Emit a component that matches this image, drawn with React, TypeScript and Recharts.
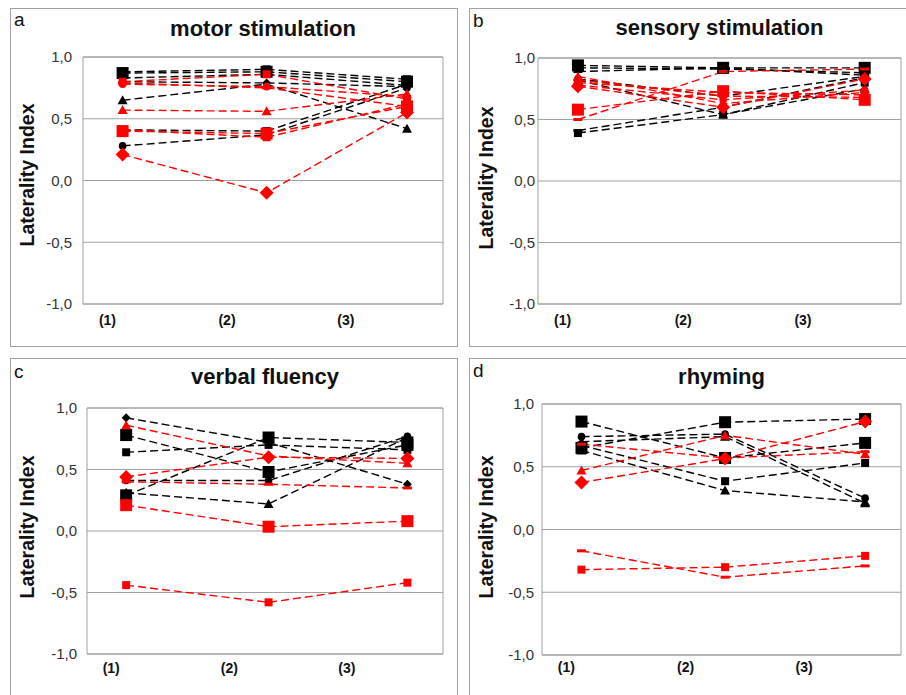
import React from 'react';
import { LineChart, Line, XAxis, YAxis, CartesianGrid, ReferenceLine } from 'recharts';

const conditions = ['(1)', '(2)', '(3)'];
// the measurements sit to the right of the printed category labels (0-100 axis)
const conditionX = [11, 51, 90];
const labelX = [6.8, 40, 73];
const yTicks = [-1, -0.5, 0, 0.5, 1];

type Mark = 'sqL' | 'sq' | 'dmL' | 'dm' | 'tri' | 'cir' | 'dash';

// a: motor stimulation
const motorBlack = [
  [0.87, 0.88, 0.8],
  [0.88, 0.9, 0.82],
  [0.83, 0.86, 0.77],
  [0.65, 0.78, 0.42],
  [0.28, 0.37, 0.75],
  [0.41, 0.4, 0.78],
  [0.8, 0.79, 0.76],
];
const motorBlackMarks: Mark[] = ['sqL', 'sq', 'cir', 'tri', 'cir', 'sq', 'dm'];
const motorRed = [
  [0.4, 0.38, 0.6],
  [0.41, 0.35, 0.62],
  [0.57, 0.56, 0.7],
  [0.21, -0.1, 0.55],
  [0.8, 0.86, 0.66],
  [0.79, 0.75, 0.6],
  [0.78, 0.76, 0.68],
];
const motorRedMarks: Mark[] = ['sqL', 'sq', 'tri', 'dmL', 'sq', 'dash', 'cir'];

// b: sensory stimulation
const sensoryBlack = [
  [0.94, 0.92, 0.92],
  [0.92, 0.91, 0.88],
  [0.89, 0.92, 0.86],
  [0.83, 0.69, 0.85],
  [0.39, 0.54, 0.8],
  [0.41, 0.6, 0.84],
  [0.82, 0.54, 0.75],
];
const sensoryBlackMarks: Mark[] = ['sqL', 'sq', 'dash', 'cir', 'sq', 'dash', 'tri'];
const sensoryRed = [
  [0.77, 0.6, 0.83],
  [0.85, 0.63, 0.72],
  [0.58, 0.73, 0.66],
  [0.5, 0.89, 0.91],
  [0.8, 0.72, 0.7],
  [0.78, 0.66, 0.74],
  [0.82, 0.69, 0.68],
];
const sensoryRedMarks: Mark[] = ['dmL', 'tri', 'sqL', 'dash', 'sq', 'cir', 'dash'];

// c: verbal fluency
const fluencyBlack = [
  [0.92, 0.72, 0.38],
  [0.78, 0.48, 0.7],
  [0.64, 0.7, 0.66],
  [0.29, 0.76, 0.72],
  [0.41, 0.41, 0.77],
  [0.31, 0.22, 0.76],
];
const fluencyBlackMarks: Mark[] = ['dm', 'sqL', 'sq', 'sqL', 'cir', 'tri'];
const fluencyRed = [
  [0.86, 0.61, 0.55],
  [0.44, 0.6, 0.59],
  [0.4, 0.38, 0.35],
  [0.21, 0.035, 0.08],
  [-0.44, -0.58, -0.42],
];
const fluencyRedMarks: Mark[] = ['tri', 'dmL', 'dash', 'sqL', 'sq'];

// d: rhyming
const rhymingBlack = [
  [0.86, 0.57, 0.69],
  [0.65, 0.855, 0.88],
  [0.74, 0.76, 0.25],
  [0.7, 0.74, 0.21],
  [0.67, 0.385, 0.53],
  [0.63, 0.31, 0.22],
];
const rhymingBlackMarks: Mark[] = ['sqL', 'sqL', 'cir', 'tri', 'sq', 'tri'];
const rhymingRed = [
  [0.375, 0.565, 0.86],
  [0.47, 0.75, 0.6],
  [0.68, 0.57, 0.62],
  [-0.32, -0.3, -0.21],
  [-0.17, -0.38, -0.29],
];
const rhymingRedMarks: Mark[] = ['dmL', 'tri', 'dash', 'sq', 'dash'];

const BLACK = '#000000';
const RED = '#ff0000';
const GRID = '#a0a0a0';
const FONT = '"Liberation Sans", Arial, sans-serif';

const Marker = ({ cx, cy, mark, color }: { cx?: number; cy?: number; mark: Mark; color: string }) => {
  if (cx == null || cy == null) return null;
  switch (mark) {
    case 'sqL':
      return <rect x={cx - 6} y={cy - 6} width={12} height={12} fill={color} />;
    case 'sq':
      return <rect x={cx - 4} y={cy - 4} width={8} height={8} fill={color} />;
    case 'dmL':
      return <polygon points={`${cx},${cy - 7} ${cx + 7},${cy} ${cx},${cy + 7} ${cx - 7},${cy}`} fill={color} />;
    case 'dm':
      return <polygon points={`${cx},${cy - 4.5} ${cx + 4.5},${cy} ${cx},${cy + 4.5} ${cx - 4.5},${cy}`} fill={color} />;
    case 'tri':
      return <polygon points={`${cx},${cy - 5} ${cx + 5},${cy + 4} ${cx - 5},${cy + 4}`} fill={color} />;
    case 'cir':
      return <circle cx={cx} cy={cy} r={3.8} fill={color} />;
    default:
      return <rect x={cx - 4.5} y={cy - 1.5} width={9} height={3} fill={color} />;
  }
};

interface Rect { left: number; top: number; width: number; height: number }

interface PanelProps {
  letter: string;
  title: string;
  black: number[][];
  red: number[][];
  blackMarks: Mark[];
  redMarks: Mark[];
  box: Rect;
  plot: Rect;
  yGap: number;
  xGap: number;
  letterY: number;
  titleY: number;
  labelY: number;
}

const X_AXIS_H = 30;

const Panel = ({ letter, title, black, red, blackMarks, redMarks, box, plot, yGap, xGap, letterY, titleY, labelY }: PanelProps) => {
  const rows = conditions.map((c, i) => {
    const row: Record<string, number | string> = { x: conditionX[i], name: c };
    black.forEach((s, k) => (row[`b${k}`] = s[i]));
    red.forEach((s, k) => (row[`r${k}`] = s[i]));
    return row;
  });

  const series = [
    ...black.map((_, k) => ({ key: `b${k}`, color: BLACK, mark: blackMarks[k] })),
    ...red.map((_, k) => ({ key: `r${k}`, color: RED, mark: redMarks[k] })),
  ];

  return (
    <div style={{ position: 'absolute', left: box.left, top: box.top, width: box.width, height: box.height }}>
      <div style={{ position: 'absolute', inset: 0, border: `1px solid ${GRID}`, boxSizing: 'border-box' }} />
      <div style={{ position: 'absolute', left: 0, top: 0 }}>
        <LineChart
          width={box.width}
          height={box.height}
          data={rows}
          margin={{
            top: plot.top,
            right: box.width - plot.left - plot.width,
            bottom: box.height - plot.top - plot.height - X_AXIS_H,
            left: 0,
          }}
        >
          <CartesianGrid vertical={false} stroke={GRID} strokeWidth={1} />
          <XAxis
            type="number"
            dataKey="x"
            domain={[0, 100]}
            ticks={labelX}
            interval={0}
            tickFormatter={(_v: number, i: number) => conditions[i]}
            height={X_AXIS_H}
            axisLine={false}
            tickLine={false}
            tickSize={0}
            tickMargin={xGap}
            tick={{ fill: '#111', fontSize: 14, fontWeight: 700, fontFamily: FONT }}
          />
          <YAxis
            type="number"
            domain={[-1, 1]}
            ticks={yTicks}
            interval={0}
            width={plot.left}
            tickFormatter={(v: number) => v.toFixed(1).replace('.', ',')}
            axisLine={false}
            tickLine={false}
            tickSize={0}
            tickMargin={yGap}
            tick={{ fill: '#333', fontSize: 15, fontFamily: FONT }}
          />
          <ReferenceLine x={0} stroke={GRID} />
          <ReferenceLine x={100} stroke={GRID} />
          <ReferenceLine y={1} stroke={GRID} />
          <ReferenceLine y={-1} stroke={GRID} />
          {series.map((s) => (
            <Line
              key={s.key}
              type="linear"
              dataKey={s.key}
              stroke={s.color}
              strokeWidth={1.4}
              strokeDasharray="8 4"
              isAnimationActive={false}
              activeDot={false}
              dot={(p: any) => (
                <g key={`${s.key}-${p.index}`}>
                  <Marker cx={p.cx} cy={p.cy} mark={s.mark} color={s.color} />
                </g>
              )}
            />
          ))}
        </LineChart>
      </div>
      <svg
        width={box.width}
        height={box.height}
        style={{ position: 'absolute', left: 0, top: 0, pointerEvents: 'none', fontFamily: FONT }}
      >
        <text x={4} y={letterY} fontSize={19} fill="#111">
          {letter}
        </text>
        <text x={plot.left + plot.width / 2} y={titleY} fontSize={22} fontWeight={700} textAnchor="middle" fill="#111">
          {title}
        </text>
        <text
          x={0}
          y={0}
          transform={`translate(24, ${labelY}) rotate(-90)`}
          fontSize={19.5}
          fontWeight={700}
          textAnchor="middle"
          fill="#111"
        >
          Laterality Index
        </text>
      </svg>
    </div>
  );
};

export default function App() {
  return (
    <div
      style={{
        position: 'absolute',
        left: 0,
        top: 0,
        width: 906,
        height: 695,
        background: '#fff',
        overflow: 'hidden',
      }}
    >
      <Panel
        letter="a"
        title="motor stimulation"
        black={motorBlack}
        red={motorRed}
        blackMarks={motorBlackMarks}
        redMarks={motorRedMarks}
        box={{ left: 10, top: 8, width: 448, height: 339 }}
        plot={{ left: 73, top: 49, width: 360, height: 247 }}
        yGap={11}
        xGap={11}
        letterY={18}
        titleY={28}
        labelY={167}
      />
      <Panel
        letter="b"
        title="sensory stimulation"
        black={sensoryBlack}
        red={sensoryRed}
        blackMarks={sensoryBlackMarks}
        redMarks={sensoryRedMarks}
        box={{ left: 469, top: 8, width: 445, height: 339 }}
        plot={{ left: 69, top: 50, width: 363, height: 246 }}
        yGap={3}
        xGap={11}
        letterY={19}
        titleY={27}
        labelY={170}
      />
      <Panel
        letter="c"
        title="verbal fluency"
        black={fluencyBlack}
        red={fluencyRed}
        blackMarks={fluencyBlackMarks}
        redMarks={fluencyRedMarks}
        box={{ left: 10, top: 358, width: 448, height: 345 }}
        plot={{ left: 77, top: 50, width: 356, height: 246 }}
        yGap={10}
        xGap={9}
        letterY={20}
        titleY={26}
        labelY={169}
      />
      <Panel
        letter="d"
        title="rhyming"
        black={rhymingBlack}
        red={rhymingRed}
        blackMarks={rhymingBlackMarks}
        redMarks={rhymingRedMarks}
        box={{ left: 469, top: 358, width: 445, height: 345 }}
        plot={{ left: 73, top: 46, width: 359, height: 251 }}
        yGap={8}
        xGap={7}
        letterY={19}
        titleY={26}
        labelY={169}
      />
    </div>
  );
}
